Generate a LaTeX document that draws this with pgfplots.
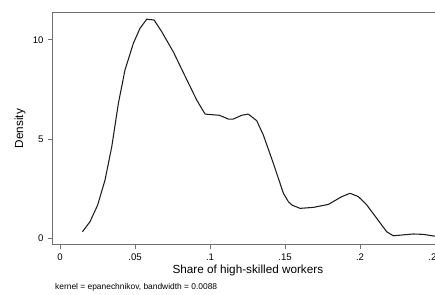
\documentclass[border=0pt]{standalone}
\usepackage{pgfplots}
\pgfplotsset{compat=1.18}
\usepackage{fontspec}
\setmainfont{Liberation Sans}
\definecolor{axgray}{HTML}{707070}
\definecolor{curve}{HTML}{1E1E1E}
\begin{document}
\begin{tikzpicture}
\begin{axis}[
  scale only axis,
  width=292.7pt, height=173.7pt,
  xmin=-0.0049, xmax=0.2553, ymin=-0.30, ymax=11.37,
  axis line style={axgray, line width=0.7pt},
  tick style={axgray, line width=0.7pt},
  tick align=outside, tick pos=left,
  major tick length=3.8pt,
  xtick={0,0.05,0.1,0.15,0.2,0.25},
  xticklabels={0,.05,.1,.15,.2,.25},
  ytick={0,5,10}, yticklabels={0,5,10},
  ticklabel style={font=\fontsize{7.2}{8}\selectfont, text=black},
  xticklabel style={yshift=0.5pt},
  yticklabel style={xshift=0.5pt},
  xlabel={Share of high-skilled workers},
  label style={font=\fontsize{8.8}{10}\selectfont},
  xlabel style={at={(axis description cs:0.5,0)}, anchor=center, yshift=-19.3pt},
  clip=false,
]
\addplot[curve, line width=0.8pt, line join=round] coordinates {
(0.0149,0.33) (0.0200,0.84) (0.0251,1.68) (0.0300,2.94) (0.0345,4.62)
(0.0389,6.80) (0.0433,8.48) (0.0489,9.83) (0.0533,10.58) (0.0578,11.04)
(0.0627,11.00) (0.0678,10.41) (0.0755,9.40) (0.0833,8.18) (0.0911,6.97)
(0.0967,6.26) (0.1062,6.20) (0.1122,6.01) (0.1155,6.01) (0.1211,6.20)
(0.1255,6.26) (0.1311,5.93) (0.1355,5.21) (0.1422,3.78) (0.1489,2.27)
(0.1522,1.85) (0.1545,1.68) (0.1600,1.51) (0.1689,1.56) (0.1789,1.71)
(0.1878,2.10) (0.1933,2.27) (0.1989,2.10) (0.2045,1.68) (0.2111,1.01)
(0.2178,0.33) (0.2222,0.13) (0.2355,0.22) (0.2422,0.20) (0.2489,0.12)
(0.2553,0.05)
};
\node[rotate=90, anchor=center, inner sep=0pt, font=\fontsize{8.8}{10}\selectfont] at ([xshift=-24.5pt]rel axis cs:0,0.5) {Density};
\node[anchor=west, inner sep=0pt, font=\fontsize{6.3}{7}\selectfont] at ([xshift=1.7pt, yshift=-32pt]rel axis cs:0,0) {kernel = epanechnikov, bandwidth = 0.0088};
\end{axis}
\pgfresetboundingbox
\path[use as bounding box] ([xshift=-39.5pt, yshift=-38pt]current axis.south west) rectangle ([xshift=286.7pt, yshift=183.2pt]current axis.south west);
\end{tikzpicture}
\end{document}
